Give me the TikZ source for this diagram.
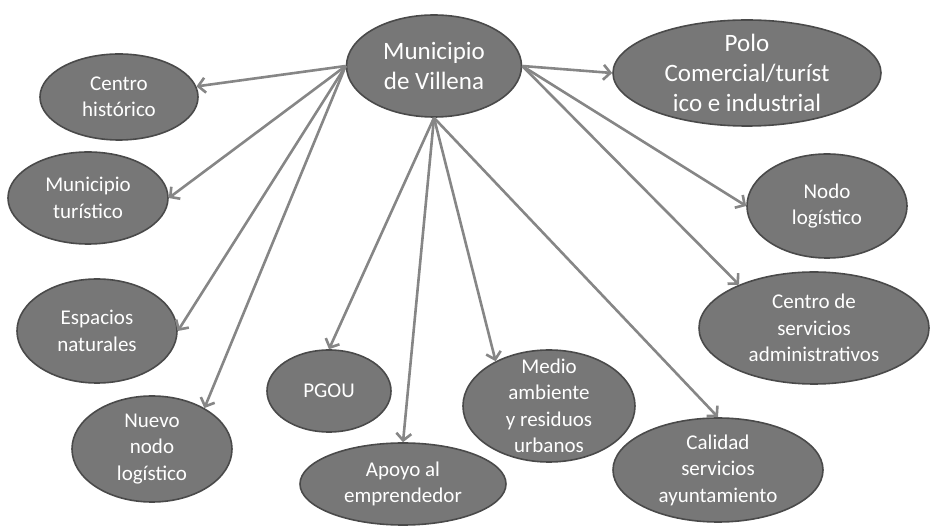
\documentclass[tikz,border=0pt]{standalone}
\usepackage{fontspec}
\setmainfont{Carlito}
\usetikzlibrary{shapes.geometric,arrows.meta}
\definecolor{bubblefill}{HTML}{777777}
\definecolor{bubbleline}{HTML}{4A4A4A}
\definecolor{arrowgray}{HTML}{868686}
\begin{document}
\begin{tikzpicture}[
      x=1pt, y=-1pt,                                     % pixel units, y goes down
      bubble/.style={ellipse, draw=bubbleline, fill=bubblefill, line width=1.6pt,
                     inner sep=0pt},                     % one grey ellipse per topic
      sz/.style 2 args={minimum width=#1, minimum height=#2},  % ellipse size
      txt/.style={text=white, align=center, font=\fontsize{21}{26.5}\selectfont},
      bigtxt/.style={txt, font=\fontsize{25}{30}\selectfont},
      arr/.style={draw=arrowgray, line width=2.6pt, -{Straight Barb[length=7pt, width=15pt]}}]  % arrow style
    \useasboundingbox (0,0) rectangle (930,526);
    \node[bubble, sz={175pt}{102pt}, label={[bigtxt]center:Municipio\\de Villena}] (mun) at (434,66) {};
    \node[bubble, sz={268pt}{106pt}, label={[bigtxt]center:Polo\\Comercial/turíst\\ico e industrial}] (polo) at (747,73) {};
    \node[bubble, sz={158pt}{86pt}, label={[txt]center:Centro\\histórico}] (hist) at (119,97) {};
    \node[bubble, sz={160pt}{92pt}, label={[txt]center:Municipio\\turístico}] (tur) at (88,198) {};
    \node[bubble, sz={160pt}{104pt}, label={[txt]center:Espacios\\naturales}] (esp) at (97,331) {};
    \node[bubble, sz={160pt}{106pt}, label={[txt]center:Nuevo\\nodo\\logístico}] (nuevo) at (152,449) {};
    \node[bubble, sz={124pt}{82pt}, label={[txt]center:PGOU}] (pgou) at (329,391) {};
    \node[bubble, sz={206pt}{82pt}, label={[txt]center:Apoyo al\\emprendedor}] (apoyo) at (403,484) {};
    \node[bubble, sz={172pt}{112pt}, label={[txt]center:Medio\\ambiente\\y residuos\\urbanos}] (medio) at (549,406) {};
    \node[bubble, sz={210pt}{104pt}, label={[txt]center:Calidad\\servicios\\ayuntamiento}] (cal) at (718,470) {};
    \node[bubble, sz={230pt}{112pt}, label={[txt]center:Centro de\\servicios\\administrativos}] (adm) at (814,328) {};
    \node[bubble, sz={160pt}{104pt}, label={[txt]center:Nodo\\logístico}] (nodo) at (827,206) {};
    \draw[arr] (mun.west) -- (hist);                     % left branches
    \draw[arr] (mun.west) -- (tur.east);
    \draw[arr] (mun.west) -- (esp.east);
    \draw[arr] (mun.west) -- (nuevo.38);
    \draw[arr] (mun.south) -- (pgou.north);              % bottom branches
    \draw[arr] (mun.south) -- (apoyo.north);
    \draw[arr] (mun.south) -- (medio.140);
    \draw[arr] (mun.south) -- (cal.north);
    \draw[arr] (mun.east) -- (polo.west);                % right branches
    \draw[arr] (mun.east) -- (nodo.west);
    \draw[arr] (mun.east) -- (adm.150);
  \end{tikzpicture}
\end{document}
